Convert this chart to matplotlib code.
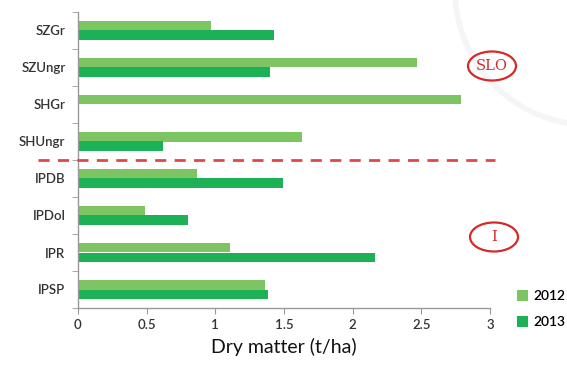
import matplotlib
matplotlib.use("Agg")
import matplotlib.pyplot as plt
from matplotlib.patches import Arc, Ellipse
import numpy as np

categories = ["SZGr", "SZUngr", "SHGr", "SHUngr", "IPDB", "IPDol", "IPR", "IPSP"]
vals_2012 = [0.97, 2.47, 2.79, 1.63, 0.87, 0.49, 1.11, 1.36]
vals_2013 = [1.43, 1.40, 0.0, 0.62, 1.49, 0.80, 2.16, 1.38]
years = ["2012", "2013"]
xticks = [0, 0.5, 1, 1.5, 2, 2.5, 3]
xticklabels = ["0", "0.5", "1", "1.5", "2", "2.5", "3"]

c2012 = "#7dc462"
c2013 = "#1db155"
red = "#d42a2a"

plt.rcParams['font.family'] = ['Lato', 'DejaVu Sans']

W, H = 567, 374
fig = plt.figure(figsize=(W / 100, H / 100), dpi=100)

# faint background arc (watermark)
fig.patches.append(Arc((590 / W, 1 + 10 / H), 2 * 135 / W, 2 * 135 / H,
                       transform=fig.transFigure, color="#f5f5f5", lw=4, zorder=0))

ax = fig.add_axes([78 / W, 1 - 308 / H, 412 / W, 296 / H])
ax.patch.set_alpha(0)

y = np.arange(len(categories))
h = 0.27
ax.barh(y - h / 2, vals_2012, height=h, color=c2012, label=years[0])
ax.barh(y + h / 2, vals_2013, height=h, color=c2013, label=years[1])

ax.set_xlim(0, 3)
ax.set_ylim(len(categories) - 0.5, -0.5)

for s in ["top", "right"]:
    ax.spines[s].set_visible(False)
for s in ["left", "bottom"]:
    ax.spines[s].set_color("#999999")
    ax.spines[s].set_linewidth(1)

ax.set_xticks(xticks)
ax.set_xticklabels(xticklabels, fontsize=9.5, color="#333333", fontweight="semibold")
ax.tick_params(axis="x", length=4, color="#999999", pad=4)

ax.set_yticks(y)
ax.set_yticklabels(categories, fontsize=9.5, color="#333333", fontweight="semibold")
ax.tick_params(axis="y", length=0, pad=9)
ax.set_yticks(np.arange(-0.5, len(categories), 1), minor=True)
ax.tick_params(axis="y", which="minor", length=4, color="#999999")

ax.set_xlabel("Dry matter (t/ha)", fontsize=14, color="#111111", labelpad=5)

# dashed separator
ax.plot([-0.097, 1.012], [3.5, 3.5], transform=ax.get_yaxis_transform(),
        color="#e04848", lw=2, ls=(0, (4, 3)), clip_on=False, zorder=3)

# group labels in ellipses
for txt, cx, cy in [("SLO", 492, 66), ("I", 494, 237)]:
    fig.patches.append(Ellipse((cx / W, 1 - cy / H), 48 / W, 29 / H,
                               transform=fig.transFigure, fc="none", ec=red, lw=1.6))
    fig.text(cx / W, 1 - cy / H, txt, ha="center", va="center", fontsize=10.5,
             color=red, family="DejaVu Serif")

fig.legend(loc="lower right", bbox_to_anchor=(1.012, 0.1), frameon=False,
           prop=dict(size=10, weight="semibold"), handlelength=0.8, handleheight=0.8,
           handletextpad=0.4, labelspacing=1.0, borderaxespad=0.2)

fig.savefig("out.png", dpi=100)
